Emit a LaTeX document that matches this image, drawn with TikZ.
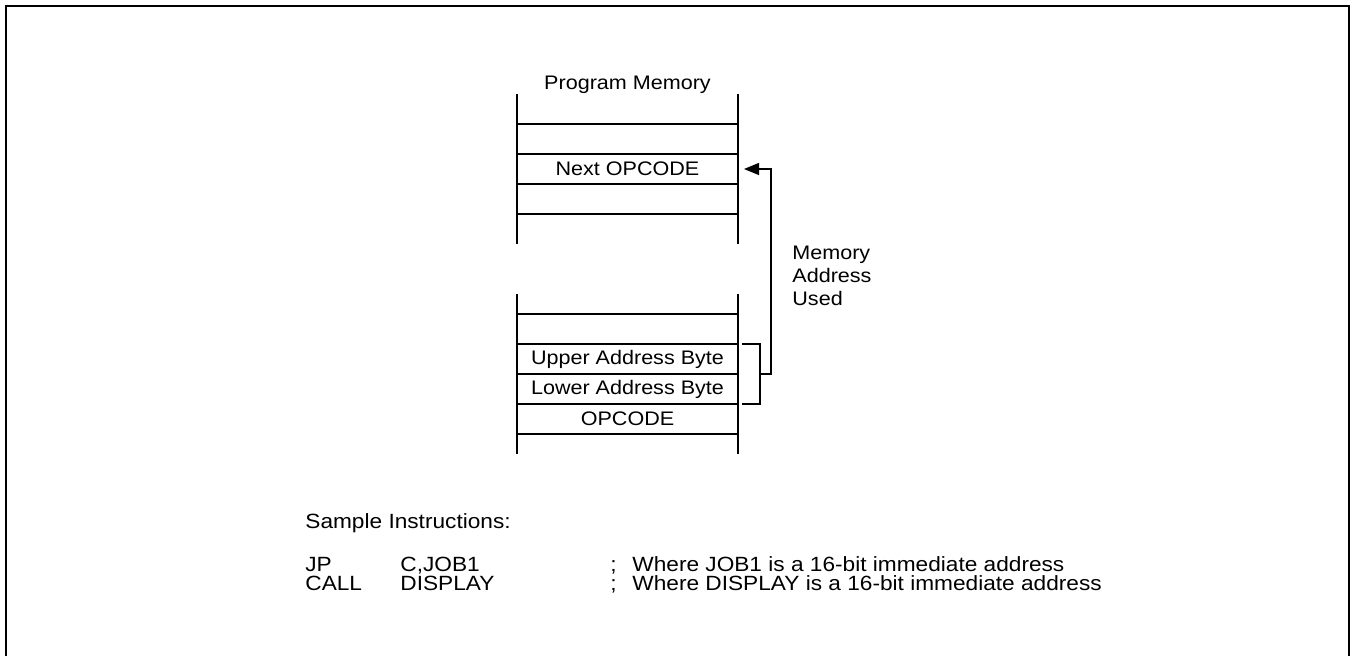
\documentclass[tikz,border=0pt]{standalone}
\usepackage{fontspec}
\setmainfont{Liberation Sans}[FakeStretch=1.1]
\usetikzlibrary{arrows.meta,positioning,calc}
\newcommand{\memfont}{\fontsize{9.8}{11.5}\selectfont}
\newcommand{\insfont}{\fontsize{10.3}{12}\selectfont}
\tikzset{
  memcell/.style={draw, line width=0.6pt, minimum width=110.5pt, minimum height=15pt,
    inner sep=0pt, outer sep=0pt, font=\memfont},
  memside/.style={line width=0.6pt},
  addrarr/.style={-{Triangle[length=7.5pt, width=6pt]}, line width=0.6pt},
  plaintxt/.style={inner sep=0pt, font=\insfont, anchor=base west},
}

\begin{document}
\begin{tikzpicture}[x=0.5pt, y=-0.5pt]
    \useasboundingbox (0,0) rectangle (1352,656);
    \draw[line width=1pt] (6,656) -- (6,6) -- (1349,6) -- (1349,656);

    % ---- columna superior ----
    \node[font=\memfont, inner sep=0pt] (titulo) at (627.5,85) {Program Memory};
    \node[memcell] (top1) at (627.5,139) {};
    \node[memcell, below=0pt of top1] (nxt) {Next OPCODE};
    \node[memcell, below=0pt of nxt] (top3) {};
    \draw[memside] (top1.north west) -- ++(0,-30);
    \draw[memside] (top1.north east) -- ++(0,-30);
    \draw[memside] (top3.south west) -- ++(0,30);
    \draw[memside] (top3.south east) -- ++(0,30);

    % ---- columna inferior ----
    \node[memcell] (bot1) at (627.5,329) {};
    \node[memcell, below=0pt of bot1] (up) {Upper Address Byte};
    \node[memcell, below=0pt of up] (lo) {Lower Address Byte};
    \node[memcell, below=0pt of lo] (op) {OPCODE};
    \draw[memside] (bot1.north west) -- ++(0,-20);
    \draw[memside] (bot1.north east) -- ++(0,-20);
    \draw[memside] (op.south west) -- ++(0,20);
    \draw[memside] (op.south east) -- ++(0,20);

    \node[font=\memfont, align=left, anchor=west, inner sep=0pt] (mau) at (792,276) {Memory\\Address\\Used};

    \draw[memside] ([xshift=2pt]up.north east) -| ([xshift=11pt]lo.south east) -- ([xshift=2pt]lo.south east);
    \draw[addrarr] ([xshift=11pt]up.south east) -| ([xshift=16.5pt]nxt.east) -- ([xshift=3pt]nxt.east);

    % ---- instrucciones ----
    \node[plaintxt] (smp) at (305,528) {Sample Instructions:};
    \node[plaintxt] (jp) at (305,571) {JP};
    \node[plaintxt] (jparg) at (400,571) {C,JOB1};
    \node[plaintxt] (jpsc) at (610,571) {;};
    \node[plaintxt] (jpcom) at (632,571) {Where JOB1 is a 16-bit immediate address};
    \node[plaintxt] (call) at (305,590) {CALL};
    \node[plaintxt] (callarg) at (400,590) {DISPLAY};
    \node[plaintxt] (callsc) at (610,590) {;};
    \node[plaintxt] (callcom) at (632,590) {Where DISPLAY is a 16-bit immediate address};
\end{tikzpicture}
\end{document}
